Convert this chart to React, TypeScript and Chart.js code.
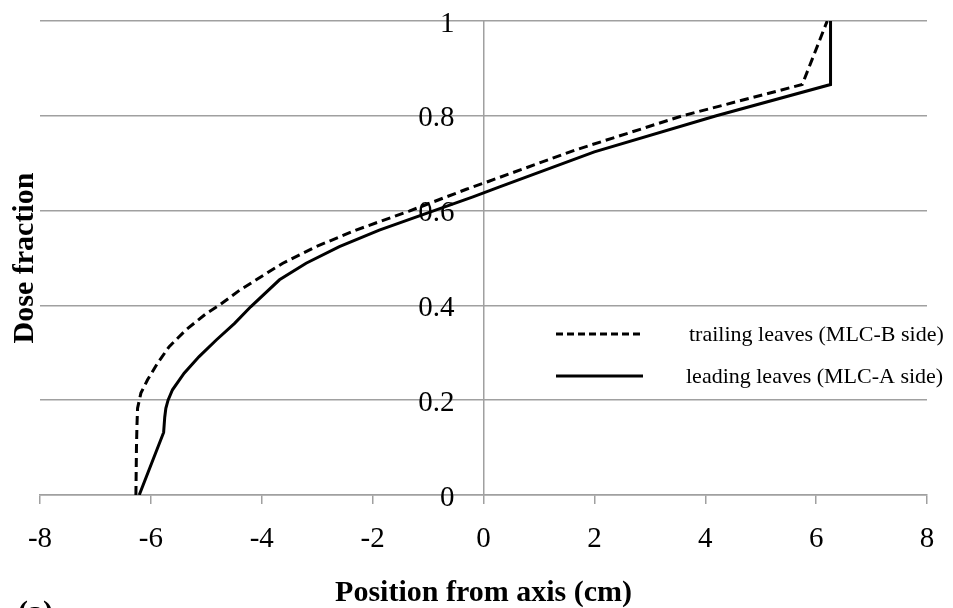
import React, { useEffect, useRef } from "react";
import { Chart, registerables } from "chart.js";

Chart.register(...registerables);

const trailingX = [-6.27, -6.26, -6.25, -6.24, -6.18, -6.06, -5.88, -5.67, -5.37, -5.0, -4.77, -4.4, -4.1, -3.62, -3.02, -2.3, -1.34, -0.31, 0.1, 1.66, 3.59, 5.75, 6.2];
const trailingY = [0, 0.1, 0.15, 0.183, 0.215, 0.243, 0.278, 0.313, 0.348, 0.383, 0.4, 0.432, 0.454, 0.489, 0.524, 0.559, 0.599, 0.645, 0.662, 0.728, 0.8, 0.866, 1.0];

const leadingX = [-6.21, -5.77, -5.75, -5.73, -5.69, -5.61, -5.4, -5.13, -4.82, -4.49, -4.2, -3.68, -3.2, -2.6, -1.88, -1.03, -0.19, 0.29, 2, 4.2, 6.26, 6.26];
const leadingY = [0, 0.132, 0.164, 0.183, 0.2, 0.222, 0.257, 0.292, 0.327, 0.362, 0.397, 0.454, 0.489, 0.524, 0.559, 0.594, 0.629, 0.65, 0.724, 0.8, 0.866, 1.0];

const seriesLabels = ["trailing leaves (MLC-B side)", "leading leaves (MLC-A side)"];
const xTitle = "Position from axis (cm)";
const yTitle = "Dose fraction";
const panelLabel = "(a)";

const SERIF = "'Liberation Serif', 'Times New Roman', serif";
const GRID = "#a0a0a0";

const toPoints = (xs: number[], ys: number[]) => xs.map((x, i) => ({ x, y: ys[i] }));

const yLabelShiftPlugin = {
  id: "yLabelShift",
  beforeDraw(chart: any) {
    const s = chart.scales.y;
    const items = s.getLabelItems(chart.chartArea);
    items.forEach((it: any) => {
      if (it.__shifted) return;
      const t = it.options.translation;
      it.options.translation = [t[0] - 29, t[1] + 3];
      it.__shifted = true;
    });
  },
};

const annotationsPlugin = {
  id: "annotations",
  afterDraw(chart: any) {
    const ctx = chart.ctx as CanvasRenderingContext2D;
    const area = chart.chartArea;
    ctx.save();
    ctx.fillStyle = "#000";
    ctx.font = `bold 30px ${SERIF}`;
    ctx.textAlign = "center";
    ctx.textBaseline = "alphabetic";
    ctx.fillText(xTitle, (area.left + area.right) / 2, 601);
    ctx.save();
    ctx.translate(33, (area.top + area.bottom) / 2);
    ctx.rotate(-Math.PI / 2);
    ctx.fillText(yTitle, 0, 0);
    ctx.restore();
    ctx.textAlign = "left";
    ctx.fillText(panelLabel, 18, 621);
    const rows = [
      { y: 334, dash: [7, 4] },
      { y: 376, dash: [] as number[] },
    ];
    chart.data.datasets.forEach((ds: any, i: number) => {
      const r = rows[i];
      ctx.beginPath();
      ctx.setLineDash(r.dash);
      ctx.lineWidth = 3;
      ctx.strokeStyle = "#000";
      ctx.moveTo(556, r.y);
      ctx.lineTo(643, r.y);
      ctx.stroke();
      ctx.setLineDash([]);
      ctx.font = `22px ${SERIF}`;
      ctx.textAlign = "left";
      ctx.textBaseline = "middle";
      ctx.fillText(ds.label, i === 0 ? 689 : 686, r.y + 1);
    });
    ctx.restore();
  },
};

export default function App() {
  const ref = useRef<HTMLCanvasElement | null>(null);
  useEffect(() => {
    if (!ref.current) return;
    const chart = new Chart(ref.current, {
      type: "scatter",
      data: {
        datasets: [
          {
            label: seriesLabels[0],
            data: toPoints(trailingX, trailingY),
            showLine: true,
            borderColor: "#000",
            borderWidth: 3,
            borderDash: [9, 5],
            pointRadius: 0,
            tension: 0,
          },
          {
            label: seriesLabels[1],
            data: toPoints(leadingX, leadingY),
            showLine: true,
            borderColor: "#000",
            borderWidth: 3,
            pointRadius: 0,
            tension: 0,
          },
        ],
      },
      options: {
        responsive: false,
        animation: false,
        layout: { padding: { left: 40, right: 26, top: 21, bottom: 0 } },
        plugins: { legend: { display: false }, tooltip: { enabled: false } },
        scales: {
          x: {
            type: "linear",
            min: -8,
            max: 8,
            afterFit: (s: any) => {
              s.height = 113;
            },
            ticks: {
              stepSize: 2,
              color: "#000",
              padding: 18,
              font: { family: SERIF, size: 29 },
            },
            grid: {
              drawOnChartArea: false,
              drawTicks: true,
              tickLength: 9,
              color: GRID,
              lineWidth: 1.5,
            },
            border: { display: true, color: GRID, width: 1.5 },
          },
          y: {
            type: "linear",
            position: { x: 0 } as any,
            min: 0,
            max: 1,
            ticks: {
              stepSize: 0.2,
              color: "#000",
              padding: 0,
              font: { family: SERIF, size: 29 },
              callback: (v: any) => String(Number(Number(v).toFixed(1))),
            },
            grid: {
              drawTicks: false,
              color: GRID,
              lineWidth: 1.5,
            },
            border: { display: true, color: GRID, width: 1.5 },
          },
        },
      },
      plugins: [yLabelShiftPlugin, annotationsPlugin],
    });
    return () => chart.destroy();
  }, []);
  return (
    <div style={{ position: "absolute", left: 0, top: 0, width: 953, height: 608, background: "#fff" }}>
      <canvas ref={ref} width={953} height={608} style={{ width: 953, height: 608 }} />
    </div>
  );
}
